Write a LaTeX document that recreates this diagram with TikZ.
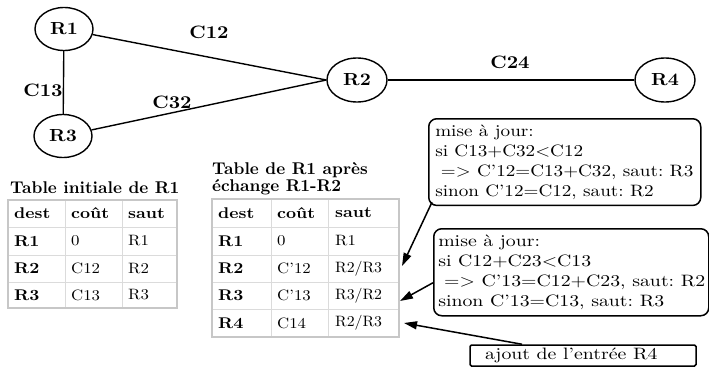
\documentclass[tikz,border=0pt]{standalone}
\usepackage{graphicx}
\usepackage{fontspec}
\setmainfont{lmroman10-regular.otf}[BoldFont=lmroman10-bold.otf]
\usetikzlibrary{shapes.geometric,arrows.meta}
\newcommand{\hs}[2]{\scalebox{#1}[1]{#2}}
\frenchspacing
\begin{document}
\begin{tikzpicture}[x=1pt,y=-1pt,
  router/.style={ellipse, draw, line width=1.4pt, minimum width=58pt, minimum height=43pt, inner sep=0pt, font=\fontsize{17.5}{17}\selectfont\bfseries},
  link/.style={line width=1.4pt},
  elab/.style={inner sep=0pt, font=\fontsize{18}{18}\selectfont\bfseries},
  ttitle/.style={anchor=west, inner sep=0pt, align=left, font=\fontsize{17}{17}\selectfont\bfseries},
  hcell/.style={anchor=west, inner sep=0pt, font=\fontsize{15.5}{15}\selectfont\bfseries},
  rcell/.style={anchor=west, inner sep=0pt, font=\fontsize{15}{15}\selectfont},
  touter/.style={draw=black!22, line width=2pt},
  tinner/.style={draw=black!14, line width=0.9pt},
  note/.style={draw, line width=1.5pt, rounded corners=8pt, anchor=north west, align=left, font=\fontsize{16.5}{20}\selectfont},
  arr/.style={line width=1.5pt, -{Triangle[length=13pt,width=8pt]}}
]
\useasboundingbox (0,0) rectangle (709,367);

% graph
\node[router] (R1) at (64,29) {\hs{1.1}{R1}};
\node[router] (R3) at (63,136) {\hs{1.1}{R3}};
\node[router, minimum width=60pt, minimum height=44pt] (R2) at (357,80) {\hs{1.1}{R2}};
\node[router, minimum width=60pt, minimum height=44pt] (R4) at (665,80) {\hs{1.1}{R4}};
\draw[link] (R1) -- (R2.west);
\draw[link] (R3) -- (R2.west);
\draw[link] (R1) -- (R3);
\draw[link] (R2) -- (R4);
\node[elab] (l12) at (209,32) {\hs{1.1}{C12}};
\node[elab] (l13) at (43,90) {\hs{1.1}{C13}};
\node[elab] (l32) at (172,102) {\hs{1.1}{C32}};
\node[elab] (l24) at (510,62) {\hs{1.1}{C24}};

% table 1
\node[ttitle] (tt1) at (10,188) {Table initiale de R1};
\foreach \y in {227,255,282} \draw[tinner] (8,\y) -- (177,\y);
\foreach \x in {65,122} \draw[tinner] (\x,200) -- (\x,308);
\draw[touter] (8,200) rectangle (177,308);
\node[hcell] (a00) at (14,213.5) {\hs{1.13}{dest}};
\node[hcell] (a01) at (71,213.5) {\hs{1.13}{coût}};
\node[hcell] (a02) at (128,213.5) {\hs{1.13}{saut}};
\node[hcell] (a10) at (14,241) {\hs{1.13}{R1}};
\node[rcell] (a11) at (71,241) {\hs{1.12}{0}};
\node[rcell] (a12) at (128,241) {\hs{1.12}{R1}};
\node[hcell] (a20) at (14,268.5) {\hs{1.13}{R2}};
\node[rcell] (a21) at (71,268.5) {\hs{1.12}{C12}};
\node[rcell] (a22) at (128,268.5) {\hs{1.12}{R2}};
\node[hcell] (a30) at (14,295) {\hs{1.13}{R3}};
\node[rcell] (a31) at (71,295) {\hs{1.12}{C13}};
\node[rcell] (a32) at (128,295) {\hs{1.12}{R3}};

% table 2
\node[ttitle] (tt2) at (212,178.5) {Table de R1 après\\échange R1-R2};
\foreach \y in {227,255,282,309} \draw[tinner] (212,\y) -- (399,\y);
\foreach \x in {271,328} \draw[tinner] (\x,199) -- (\x,337);
\draw[touter] (212,199) rectangle (399,337);
\node[hcell] (b00) at (218,213) {\hs{1.13}{dest}};
\node[hcell] (b01) at (277,213) {\hs{1.13}{coût}};
\node[hcell] (b02) at (335,213) {\hs{1.13}{saut}};
\node[hcell] (b10) at (218,241) {\hs{1.13}{R1}};
\node[rcell] (b11) at (277,241) {\hs{1.12}{0}};
\node[rcell] (b12) at (335,241) {\hs{1.12}{R1}};
\node[hcell] (b20) at (218,268.5) {\hs{1.13}{R2}};
\node[rcell] (b21) at (277,268.5) {\hs{1.12}{C'12}};
\node[rcell] (b22) at (335,268.5) {\hs{1.05}{R2/R3}};
\node[hcell] (b30) at (218,295.5) {\hs{1.13}{R3}};
\node[rcell] (b31) at (277,295.5) {\hs{1.12}{C'13}};
\node[rcell] (b32) at (335,295.5) {\hs{1.05}{R3/R2}};
\node[hcell] (b40) at (218,323) {\hs{1.13}{R4}};
\node[rcell] (b41) at (277,323) {\hs{1.12}{C14}};
\node[rcell] (b42) at (335,323) {\hs{1.05}{R2/R3}};
\coordinate (p2) at (402,266);
\coordinate (p3) at (400,301);
\coordinate (p4) at (404,323);

% notes
\node[note, minimum width=272pt, minimum height=85pt, text width=259pt, inner xsep=6.5pt] (box1) at (428,118)
  {\hs{1.16}{\begin{tabular}{@{}l@{}}mise à jour:\\si C13+C32<C12\\\hspace{0.3em}=> C'12=C13+C32, saut: R3\\sinon C'12=C12, saut: R2\end{tabular}}};
\node[note, minimum width=275pt, minimum height=87pt, text width=266pt, inner xsep=4.5pt] (box2) at (433,228)
  {\hs{1.2}{\begin{tabular}{@{}l@{}}mise à jour:\\si C12+C23<C13\\\hspace{0.3em}=> C'13=C12+C23, saut: R2\\sinon C'13=C13, saut: R3\end{tabular}}};
\node[draw, line width=1.5pt, rounded corners=1.5pt, minimum width=226pt, minimum height=21pt, text width=206pt, inner xsep=10pt, inner ysep=0pt, align=left, font=\fontsize{16.5}{16}\selectfont] (box3) at (583,355.5)
  {\hspace{5pt}\hs{1.2}{ajout de l'entrée R4}};

\draw[arr] ([xshift=4pt,yshift=4pt]box1.south west) -- (p2);
\draw[arr] ([yshift=-10.5pt]box2.west) -- (p3);
\draw[arr] ([xshift=-61pt]box3.north) -- (p4);
\end{tikzpicture}
\end{document}
